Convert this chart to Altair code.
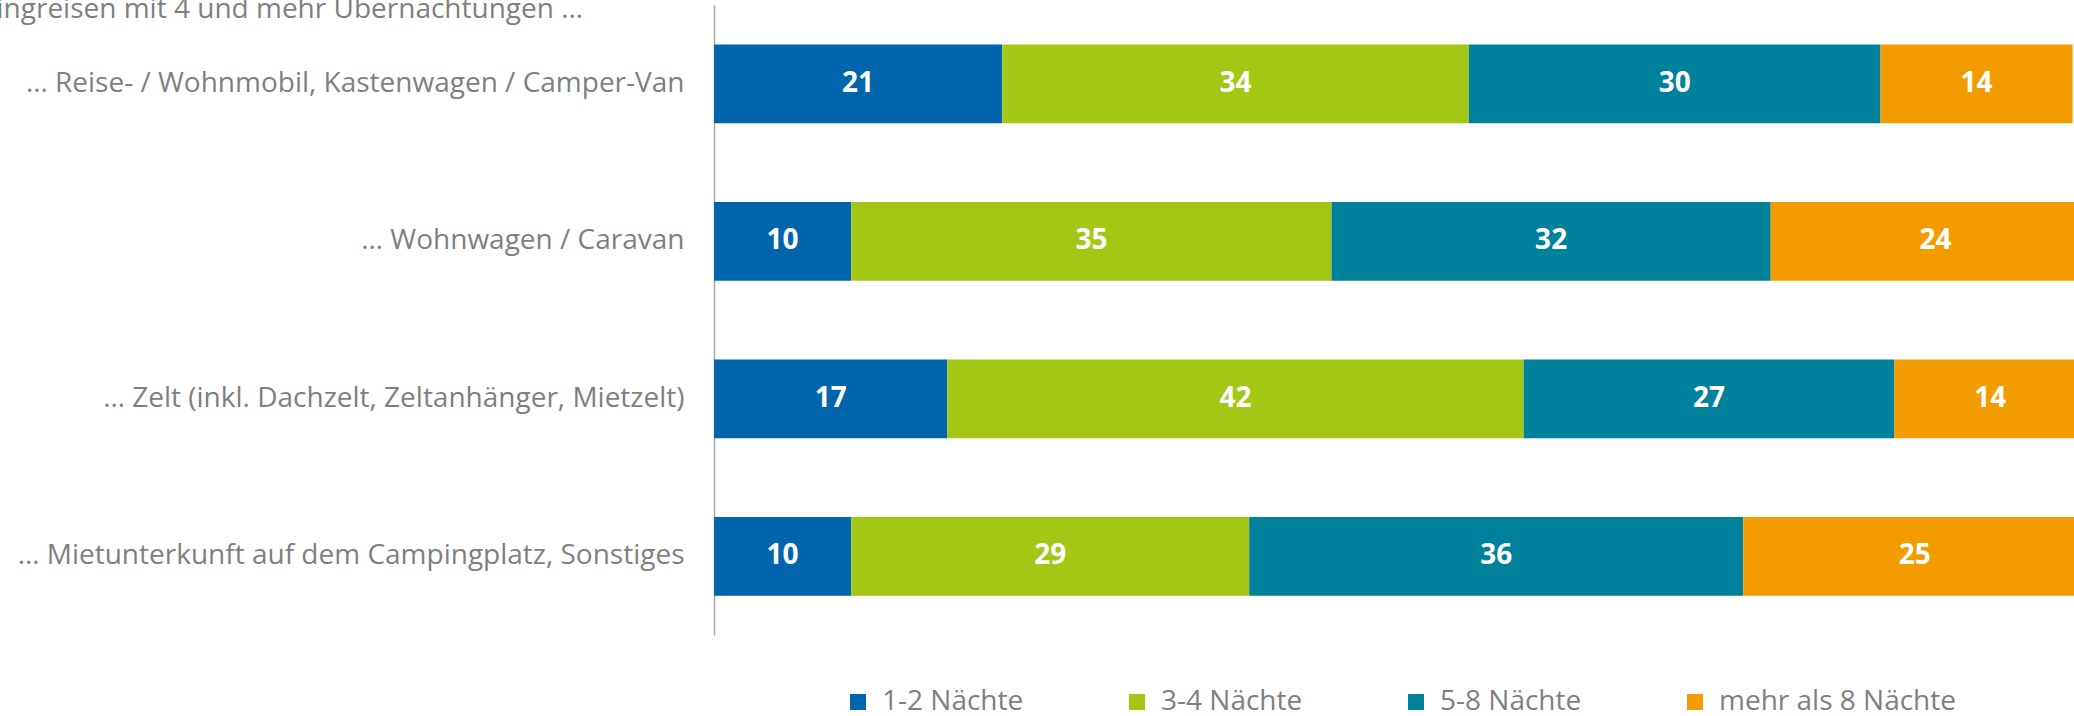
import altair as alt
import pandas as pd

categories = [
    "… Reise- / Wohnmobil, Kastenwagen / Camper-Van",
    "… Wohnwagen / Caravan",
    "… Zelt (inkl. Dachzelt, Zeltanhänger, Mietzelt)",
    "… Mietunterkunft auf dem Campingplatz, Sonstiges",
]
series = ["1-2 Nächte", "3-4 Nächte", "5-8 Nächte", "mehr als 8 Nächte"]
values_12 = [21, 10, 17, 10]
values_34 = [34, 35, 42, 29]
values_58 = [30, 32, 27, 36]
values_8p = [14, 24, 14, 25]
colors = ["#0065AD", "#A4C615", "#00819B", "#F39C00"]
title_text = "Campingreisen mit 4 und mehr Übernachtungen …"

rows = []
for i, cat in enumerate(categories):
    start = 0
    for s, vals in zip(series, [values_12, values_34, values_58, values_8p]):
        v = vals[i]
        rows.append({"cat": cat, "series": s, "value": v, "start": start,
                     "end": start + v, "mid": start + v / 2})
        start += v
df = pd.DataFrame(rows)

FONT = "Open Sans"
GRAY = "#7f7f7f"
FS = 28

xscale = alt.Scale(domain=[0, 99.1], nice=False, zero=False)
yscale = alt.Scale(domain=categories, paddingInner=0.5, paddingOuter=0.25)

bars = alt.Chart(df).mark_bar(clip=True, cornerRadius=0).encode(
    y=alt.Y("cat:N", scale=yscale, sort=categories,
            axis=alt.Axis(title=None, ticks=False, labelPadding=30, labelFontSize=FS,
                          labelColor=GRAY, labelFont=FONT, labelLimit=0,
                          domainColor="#a6a6a6", domainWidth=1.5, grid=False)),
    x=alt.X("start:Q", scale=xscale, axis=None),
    x2="end:Q",
    color=alt.Color("series:N", sort=series,
                    scale=alt.Scale(domain=series, range=colors),
                    legend=alt.Legend(title=None, orient="none", direction="horizontal",
                                      columns=4, gridAlign="all", legendX=130, legendY=683,
                                      symbolType="square", symbolSize=256, symbolStrokeWidth=0,
                                      labelFont=FONT, labelFontSize=FS, labelColor=GRAY,
                                      labelOffset=10, columnPadding=4, labelLimit=400)),
)

labels = alt.Chart(df).mark_text(font=FONT, fontSize=FS, fontWeight="bold", color="white",
                                 baseline="middle", align="center").encode(
    y=alt.Y("cat:N", scale=yscale, sort=categories),
    x=alt.X("mid:Q", scale=xscale),
    text=alt.Text("value:Q"),
)

title = alt.Chart(pd.DataFrame({"t": [title_text]})).mark_text(
    font=FONT, fontSize=FS, color=GRAY, align="right", baseline="alphabetic"
).encode(x=alt.value(-131), y=alt.value(13), text="t:N")

chart = alt.layer(bars, labels, title).properties(
    width=1360, height=630,
    autosize=alt.AutoSizeParams(type="none"),
    padding={"left": 714, "top": 5, "right": 0, "bottom": 81},
).configure(background="white").configure_view(stroke=None, strokeWidth=0)

chart.save("out.html", embed_options={"renderer": "svg", "actions": False})
